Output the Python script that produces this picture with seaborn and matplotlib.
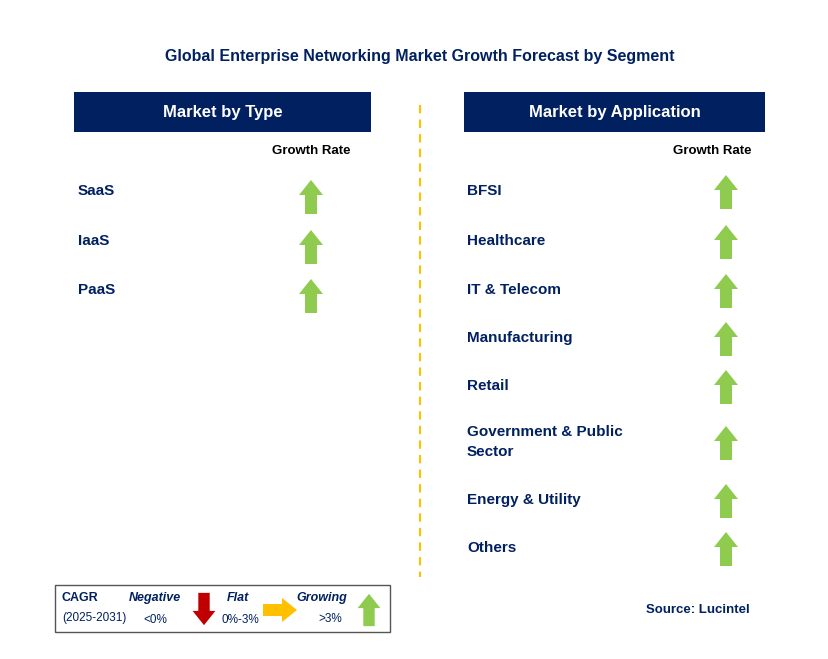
import matplotlib
matplotlib.use("Agg")
import matplotlib.pyplot as plt
import seaborn as sns
from matplotlib.patches import Rectangle, Polygon

sns.set_theme(style="white")
plt.rcParams["font.family"] = "Liberation Sans"

NAVY = "#002060"
GREEN = "#8FCB4F"
RED = "#C00000"
ORANGE = "#FFC000"

# data
title = "Global Enterprise Networking Market Growth Forecast by Segment"
type_segments = ["SaaS", "IaaS", "PaaS"]
type_growth = ["up", "up", "up"]
app_segments = ["BFSI", "Healthcare", "IT & Telecom", "Manufacturing", "Retail",
                "Government & Public\nSector", "Energy & Utility", "Others"]
app_growth = ["up"] * 8
type_rows_y = [191, 241, 290]
app_rows_y = [191, 241, 290, 338, 386, 442, 500, 548]


def arrow(ax, cx, cy, kind, size=1.0):
    w, h = 24 * size, 34 * size
    sw, hh = 12 * size, 15 * size
    if kind == "up":
        pts = [(cx - sw/2, cy + h/2), (cx + sw/2, cy + h/2), (cx + sw/2, cy - h/2 + hh),
               (cx + w/2, cy - h/2 + hh), (cx, cy - h/2), (cx - w/2, cy - h/2 + hh),
               (cx - sw/2, cy - h/2 + hh)]
        col = GREEN
    elif kind == "down":
        pts = [(cx - sw/2, cy - h/2), (cx + sw/2, cy - h/2), (cx + sw/2, cy + h/2 - hh),
               (cx + w/2, cy + h/2 - hh), (cx, cy + h/2), (cx - w/2, cy + h/2 - hh),
               (cx - sw/2, cy + h/2 - hh)]
        col = RED
    else:
        pts = [(cx - h/2, cy - sw/2), (cx + h/2 - hh, cy - sw/2), (cx + h/2 - hh, cy - w/2),
               (cx + h/2, cy), (cx + h/2 - hh, cy + w/2), (cx + h/2 - hh, cy + sw/2),
               (cx - h/2, cy + sw/2)]
        col = ORANGE
    ax.add_patch(Polygon(pts, closed=True, facecolor=col, edgecolor="none"))


fig = plt.figure(figsize=(8.29, 6.59), dpi=100)
ax = fig.add_axes([0, 0, 1, 1])
ax.set_xlim(0, 829)
ax.set_ylim(659, 0)
ax.axis("off")

ax.text(420, 57, title, ha="center", va="center", fontsize=11.5, fontweight="bold", color=NAVY)

# headers
for x0, x1, label in [(74, 371, "Market by Type"), (464, 765, "Market by Application")]:
    ax.add_patch(Rectangle((x0, 92), x1 - x0, 40, facecolor=NAVY, edgecolor="none"))
    ax.text((x0 + x1) / 2, 112, label, ha="center", va="center", fontsize=12,
            fontweight="bold", color="white")

ax.text(311, 151, "Growth Rate", ha="center", va="center", fontsize=9.5, fontweight="bold", color="black")
ax.text(712, 151, "Growth Rate", ha="center", va="center", fontsize=9.5, fontweight="bold", color="black")

for name, g, y in zip(type_segments, type_growth, type_rows_y):
    ax.text(78, y, name, ha="left", va="center", fontsize=11, fontweight="bold", color=NAVY)
    arrow(ax, 311, y + 6, g)

for name, g, y in zip(app_segments, app_growth, app_rows_y):
    ax.text(467, y, name, ha="left", va="center", fontsize=11, fontweight="bold", color=NAVY,
            linespacing=1.6)
    arrow(ax, 726, y + 1, g)

ax.plot([420, 420], [105, 577], color=ORANGE, linestyle=(0, (4, 3)), linewidth=1.5)

# legend
ax.add_patch(Rectangle((55, 585), 335, 47, facecolor="white", edgecolor="#555555", linewidth=1))
ax.text(62, 598, "CAGR", fontsize=9, fontweight="bold", color=NAVY, va="center")
ax.text(62, 618, "(2025-2031)", fontsize=8.5, color=NAVY, va="center")
ax.text(155, 598, "Negative", fontsize=9, fontweight="bold", style="italic", color=NAVY, va="center", ha="center")
ax.text(155, 620, "<0%", fontsize=8.5, color=NAVY, va="center", ha="center")
arrow(ax, 204, 609, "down", 0.95)
ax.text(238, 598, "Flat", fontsize=9, fontweight="bold", style="italic", color=NAVY, va="center", ha="center")
ax.text(240, 620, "0%-3%", fontsize=8.5, color=NAVY, va="center", ha="center")
arrow(ax, 280, 610, "flat", 1.0)
ax.text(322, 598, "Growing", fontsize=9, fontweight="bold", style="italic", color=NAVY, va="center", ha="center")
ax.text(330, 619, ">3%", fontsize=8.5, color=NAVY, va="center", ha="center")
arrow(ax, 369, 610, "up", 0.95)

ax.text(750, 610, "Source: Lucintel", ha="right", va="center", fontsize=9.5, fontweight="bold", color=NAVY)

fig.savefig("out.png", dpi=100)
